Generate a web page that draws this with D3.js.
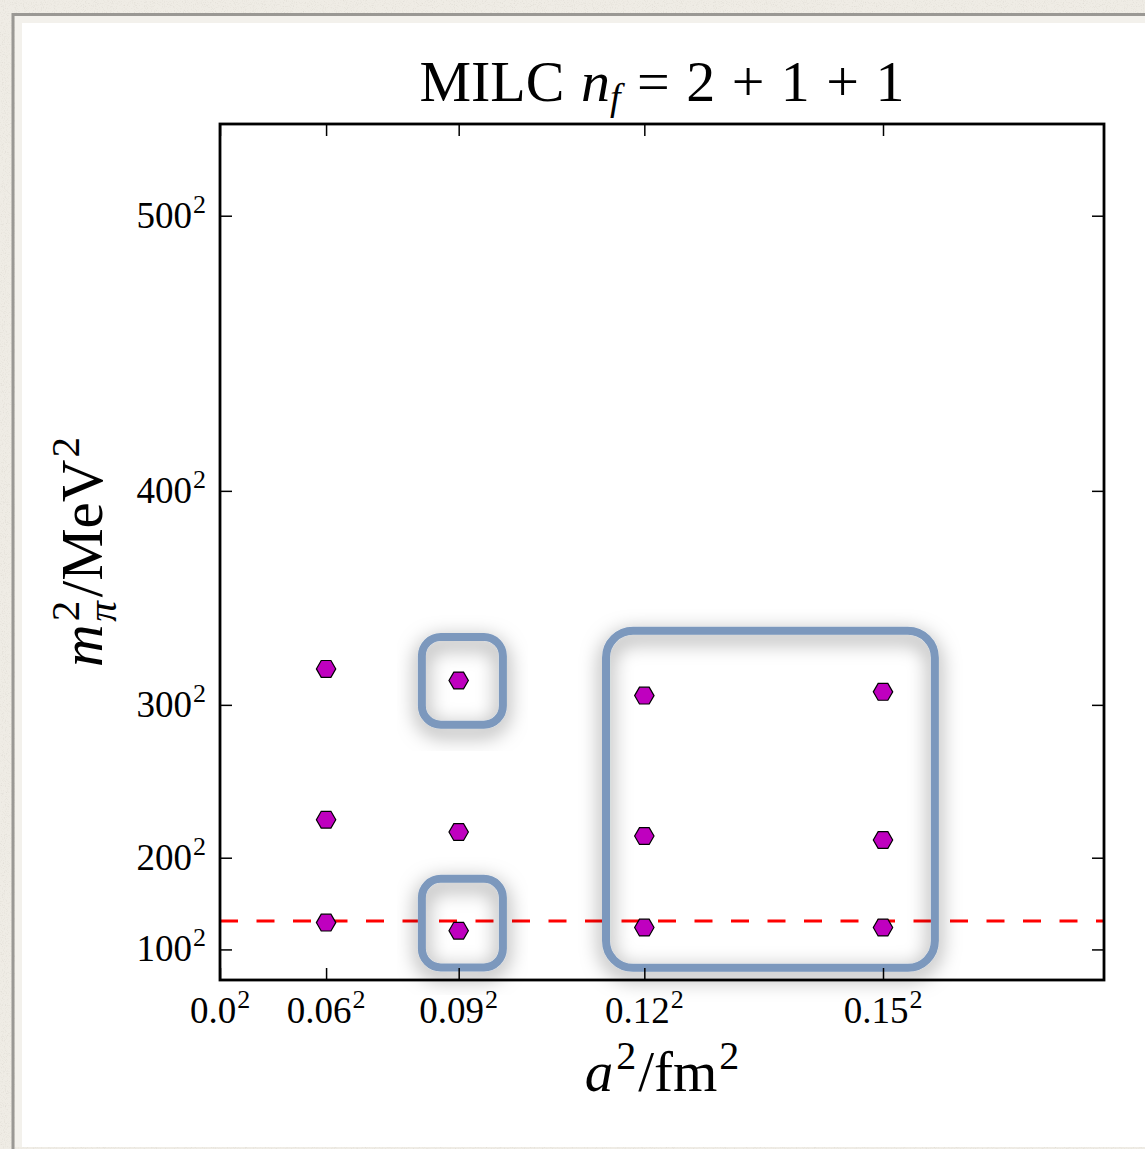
<!DOCTYPE html>
<html>
<head>
<meta charset="utf-8">
<script src="https://cdn.jsdelivr.net/npm/d3@7"></script>
<style>
  html, body { margin: 0; padding: 0; background: #efece5; }
  svg { display: block; }
  text { font-family: "Liberation Serif", "DejaVu Serif", serif; fill: #000; }
</style>
</head>
<body>
<div id="chart"></div>
<script>
// lattice spacings (fm) of the ensembles, and pion masses (MeV) per spacing
const spacings = [0.06, 0.09, 0.12, 0.15];
const mpiHeavy = [319, 313, 305, 307];
const mpiMid   = [229, 220, 217, 214];
const mpiPhys  = [137, 127, 131, 131];
const mpiPhysical = 139;

// tick labels
const xTickSpacings = [0.0, 0.06, 0.09, 0.12, 0.15];
const xTickLabels = ["0.0", "0.06", "0.09", "0.12", "0.15"];
const yTickMasses = [100, 200, 300, 400, 500];

// highlighted regions: a^2 range (fm^2) and pion mass range (MeV)
const boxA2lo = [0.00685, 0.00685, 0.0131];
const boxA2hi = [0.0096, 0.0096, 0.02426];
const boxMlo  = [289, 64, 63];
const boxMhi  = [335, 182, 338];

const W = 1145, H = 1149;
const margin = {top: 124, right: 41, bottom: 169, left: 220};

const svg = d3.select("#chart").append("svg")
    .attr("width", W)
    .attr("height", H);

const defs = svg.append("defs");

// paper texture for the surrounding frame
const paper = defs.append("filter").attr("id", "paper")
    .attr("x", 0).attr("y", 0).attr("width", "100%").attr("height", "100%");
paper.append("feTurbulence").attr("type", "fractalNoise")
    .attr("baseFrequency", 0.9).attr("numOctaves", 2).attr("result", "noise");
paper.append("feColorMatrix").attr("in", "noise").attr("type", "matrix")
    .attr("values", "0 0 0 0 0.55  0 0 0 0 0.52  0 0 0 0 0.47  0 0 0 -0.9 0.45")
    .attr("result", "tint");
paper.append("feComposite").attr("in", "tint").attr("in2", "SourceGraphic").attr("operator", "atop");

const shadow = defs.append("filter").attr("id", "shadow")
    .attr("x", "-30%").attr("y", "-30%").attr("width", "160%").attr("height", "160%");
shadow.append("feDropShadow")
    .attr("dx", 0).attr("dy", 6).attr("stdDeviation", 10)
    .attr("flood-color", "#000").attr("flood-opacity", 0.5);

// frame
svg.append("rect").attr("width", W).attr("height", H)
    .attr("fill", "#efece5").attr("filter", "url(#paper)");
svg.append("rect").attr("x", 13).attr("y", 14.5).attr("width", W).attr("height", H)
    .attr("fill", "none").attr("stroke", "#9a9894").attr("stroke-width", 3);
svg.append("rect").attr("x", 15).attr("y", 16).attr("width", W).attr("height", 1131)
    .attr("fill", "#f3f1ec");
svg.append("rect").attr("x", 22).attr("y", 23).attr("width", W).attr("height", 1124)
    .attr("fill", "#fff");

const x = d3.scaleLinear()
    .domain([0, 0.03])
    .range([margin.left, W - margin.right]);
const y = d3.scaleLinear()
    .domain([0, 280000])
    .range([H - margin.bottom, margin.top]);

const x0 = x.range()[0], x1 = x.range()[1];
const y0 = y.range()[0], y1 = y.range()[1];

// points
const points = [];
spacings.forEach(function(a, i) {
  [mpiHeavy[i], mpiMid[i], mpiPhys[i]].forEach(function(m) {
    points.push({a2: a * a, m2: m * m});
  });
});

// physical pion mass
svg.append("line")
    .attr("x1", x0).attr("x2", x1)
    .attr("y1", y(mpiPhysical * mpiPhysical)).attr("y2", y(mpiPhysical * mpiPhysical))
    .attr("stroke", "#ff0000").attr("stroke-width", 3)
    .attr("stroke-dasharray", "18,18.5");

// hexagon marker (flat top)
const hexR = 9.7;
const hex = d3.line()(d3.range(6).map(function(k) {
  const t = k * Math.PI / 3;
  return [hexR * Math.cos(t), hexR * Math.sin(t)];
})) + "Z";

svg.selectAll("path.pt")
  .data(points)
  .join("path")
    .attr("class", "pt")
    .attr("d", hex)
    .attr("transform", function(d) { return `translate(${x(d.a2)},${y(d.m2)})`; })
    .attr("fill", "#bf00bf")
    .attr("stroke", "#000")
    .attr("stroke-width", 1.2);

// highlight boxes
svg.selectAll("rect.box")
  .data(d3.range(boxA2lo.length))
  .join("rect")
    .attr("class", "box")
    .attr("x", function(i) { return x(boxA2lo[i]); })
    .attr("y", function(i) { return y(boxMhi[i] * boxMhi[i]); })
    .attr("width", function(i) { return x(boxA2hi[i]) - x(boxA2lo[i]); })
    .attr("height", function(i) { return y(boxMlo[i] * boxMlo[i]) - y(boxMhi[i] * boxMhi[i]); })
    .attr("rx", function(i) { return i < 2 ? 19 : 27; })
    .attr("fill", "none")
    .attr("stroke", "#7b98bd")
    .attr("stroke-width", 8)
    .attr("filter", "url(#shadow)");

// axes
const tickLen = 12;
const xAxisB = d3.axisBottom(x)
    .tickValues(xTickSpacings.map(function(a) { return a * a; }))
    .tickSize(-tickLen).tickFormat("");
const xAxisT = d3.axisTop(x)
    .tickValues(xTickSpacings.map(function(a) { return a * a; }))
    .tickSize(-tickLen).tickFormat("");
const yAxisL = d3.axisLeft(y)
    .tickValues(yTickMasses.map(function(m) { return m * m; }))
    .tickSize(-tickLen).tickFormat("");
const yAxisR = d3.axisRight(y)
    .tickValues(yTickMasses.map(function(m) { return m * m; }))
    .tickSize(-tickLen).tickFormat("");

function styleAxis(g) {
  g.select(".domain").remove();
  g.selectAll(".tick line").attr("stroke", "#000").attr("stroke-width", 1.5);
}
svg.append("g").attr("transform", `translate(0,${y0})`).call(xAxisB).call(styleAxis);
svg.append("g").attr("transform", `translate(0,${y1})`).call(xAxisT).call(styleAxis);
svg.append("g").attr("transform", `translate(${x0},0)`).call(yAxisL).call(styleAxis);
svg.append("g").attr("transform", `translate(${x1},0)`).call(yAxisR).call(styleAxis);

svg.append("rect")
    .attr("x", x0).attr("y", y1)
    .attr("width", x1 - x0).attr("height", y0 - y1)
    .attr("fill", "none").attr("stroke", "#000").attr("stroke-width", 2.8);

// tick labels with superscript 2
const tickFont = 37;
const xl = svg.selectAll("text.xl")
  .data(xTickSpacings)
  .join("text")
    .attr("class", "xl")
    .attr("x", function(a) { return x(a * a); })
    .attr("y", y0 + 43)
    .attr("text-anchor", "middle")
    .style("font-size", tickFont + "px");
xl.append("tspan").text(function(a, i) { return xTickLabels[i]; });
xl.append("tspan").attr("dx", 1).attr("dy", -15).style("font-size", "26px").text("2");

const yl = svg.selectAll("text.yl")
  .data(yTickMasses)
  .join("text")
    .attr("class", "yl")
    .attr("x", x0 - 14)
    .attr("y", function(m) { return y(m * m) + 12; })
    .attr("text-anchor", "end")
    .style("font-size", tickFont + "px");
yl.append("tspan").text(function(m) { return m; });
yl.append("tspan").attr("dx", 1).attr("dy", -15).style("font-size", "26px").text("2");

// title
const title = svg.append("text")
    .attr("x", (x0 + x1) / 2)
    .attr("y", 101)
    .attr("text-anchor", "middle")
    .style("font-size", "58px");
title.append("tspan").text("MILC ");
title.append("tspan").attr("dx", 2).style("font-style", "italic").text("n");
title.append("tspan").attr("dy", 9).style("font-size", "38px").style("font-style", "italic").text("f");
title.append("tspan").attr("dy", -9).style("word-spacing", "2px").text(" = 2 + 1 + 1");

// x label
const xlab = svg.append("text")
    .attr("x", (x0 + x1) / 2)
    .attr("y", 1091)
    .attr("text-anchor", "middle")
    .style("font-size", "57px");
xlab.append("tspan").style("font-style", "italic").text("a");
xlab.append("tspan").attr("dx", 3).attr("dy", -22).style("font-size", "40px").text("2");
xlab.append("tspan").attr("dx", 2).attr("dy", 22).text("/fm");
xlab.append("tspan").attr("dx", 2).attr("dy", -22).style("font-size", "40px").text("2");

// y label
const ylab = svg.append("text")
    .attr("transform", `translate(102,${(y0 + y1) / 2}) rotate(-90)`)
    .attr("text-anchor", "middle")
    .style("font-size", "59px");
ylab.append("tspan").style("font-style", "italic").text("m");
ylab.append("tspan").attr("dx", 3).attr("dy", -23).style("font-size", "41px").text("2");
ylab.append("tspan").attr("dx", -21).attr("dy", 37).style("font-size", "41px").style("font-style", "italic").text("π");
ylab.append("tspan").attr("dx", 4).attr("dy", -14).text("/MeV");
ylab.append("tspan").attr("dx", 2).attr("dy", -23).style("font-size", "41px").text("2");
</script>
</body>
</html>
